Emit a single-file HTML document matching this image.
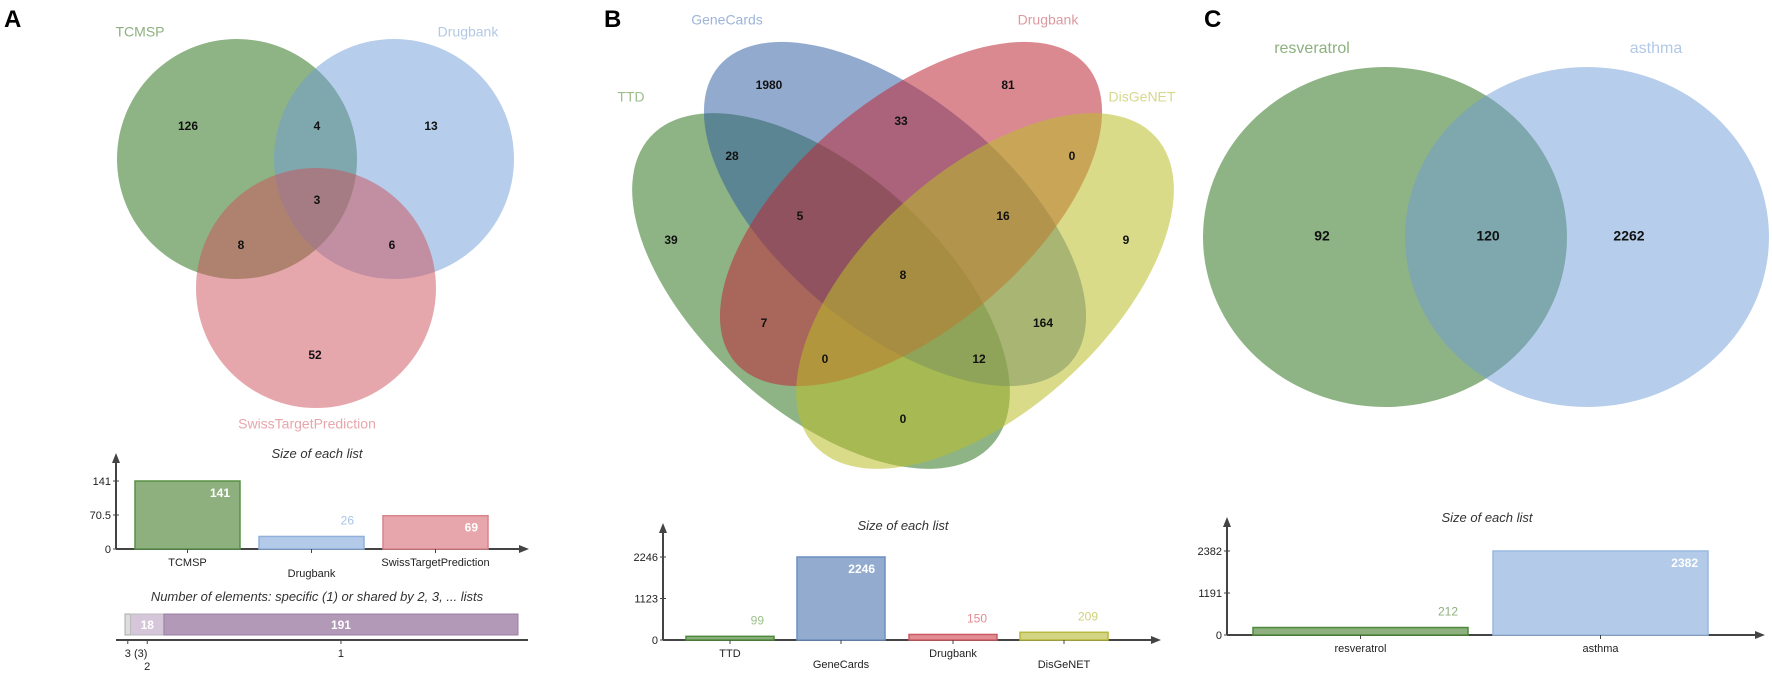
<!DOCTYPE html>
<html><head><meta charset="utf-8">
<style>
html,body{margin:0;padding:0;background:#fff;}
svg{display:block;font-family:"Liberation Sans",Arial,sans-serif;}
.num{font-size:12px;font-weight:bold;fill:#111;text-anchor:middle;dominant-baseline:middle;}
.lab{font-size:14px;text-anchor:middle;dominant-baseline:middle;}
.panel{font-size:24px;font-weight:bold;fill:#000;}
.tick{font-size:11px;fill:#222;}
.ttl{font-size:13px;font-style:italic;fill:#333;text-anchor:middle;}
</style></head>
<body>
<svg id="fig" width="1772" height="674" viewBox="0 0 1772 674">
<defs>
<marker id="arr" markerWidth="10" markerHeight="10" refX="5" refY="5" orient="auto" markerUnits="userSpaceOnUse">
<path d="M0,1 L10,5 L0,9 Z" fill="#444"/></marker>
</defs>

<!-- Panel A -->
<text class="panel" x="4" y="27">A</text>
<g>
<circle cx="237" cy="159" r="120" fill="rgb(60,125,45)" fill-opacity="0.58"/>
<circle cx="394" cy="159" r="120" fill="rgb(110,155,215)" fill-opacity="0.5"/>
<circle cx="316" cy="288" r="120" fill="rgb(205,80,90)" fill-opacity="0.5"/>
<text class="lab" x="140" y="33" fill="#8db07e">TCMSP</text>
<text class="lab" x="468" y="33" fill="#b3c8e6">Drugbank</text>
<text class="lab" x="307" y="425" fill="#e8a6ab">SwissTargetPrediction</text>
<text class="num" x="188" y="127">126</text>
<text class="num" x="317" y="127">4</text>
<text class="num" x="431" y="127">13</text>
<text class="num" x="317" y="201">3</text>
<text class="num" x="241" y="246">8</text>
<text class="num" x="392" y="246">6</text>
<text class="num" x="315" y="356">52</text>
</g>
<g id="barA"></g>
<g id="stackA"></g>

<!-- Panel B -->
<text class="panel" x="604" y="27">B</text>
<g>
<ellipse cx="821" cy="291" rx="230" ry="120" transform="rotate(42 821 291)" fill="rgb(60,125,45)" fill-opacity="0.58"/>
<ellipse cx="895" cy="214" rx="230" ry="115" transform="rotate(40 895 214)" fill="rgb(40,85,160)" fill-opacity="0.5"/>
<ellipse cx="911" cy="214" rx="230" ry="115" transform="rotate(-40 911 214)" fill="rgb(190,40,55)" fill-opacity="0.55"/>
<ellipse cx="985" cy="291" rx="230" ry="120" transform="rotate(-42 985 291)" fill="rgb(185,190,40)" fill-opacity="0.55"/>
<text class="lab" x="727" y="21" fill="#9db5d8">GeneCards</text>
<text class="lab" x="1048" y="21" fill="#dc9aa0">Drugbank</text>
<text class="lab" x="631" y="98" fill="#9dbc8c">TTD</text>
<text class="lab" x="1142" y="98" fill="#d6d88c">DisGeNET</text>
<text class="num" x="769" y="86">1980</text>
<text class="num" x="1008" y="86">81</text>
<text class="num" x="901" y="122">33</text>
<text class="num" x="732" y="157">28</text>
<text class="num" x="1072" y="157">0</text>
<text class="num" x="800" y="217">5</text>
<text class="num" x="1003" y="217">16</text>
<text class="num" x="671" y="241">39</text>
<text class="num" x="1126" y="241">9</text>
<text class="num" x="903" y="276">8</text>
<text class="num" x="764" y="324">7</text>
<text class="num" x="1043" y="324">164</text>
<text class="num" x="825" y="360">0</text>
<text class="num" x="979" y="360">12</text>
<text class="num" x="903" y="420">0</text>
</g>
<g id="barB"></g>

<!-- Panel C -->
<text class="panel" x="1204" y="27">C</text>
<g>
<ellipse cx="1385" cy="237" rx="182" ry="170" fill="rgb(60,125,45)" fill-opacity="0.58"/>
<ellipse cx="1587" cy="237" rx="182" ry="170" fill="rgb(110,155,215)" fill-opacity="0.5"/>
<text class="lab" x="1312" y="49" fill="#8db07e" style="font-size:16px">resveratrol</text>
<text class="lab" x="1656" y="49" fill="#b3c8e6" style="font-size:16px">asthma</text>
<text class="num" x="1322" y="237" style="font-size:14px">92</text>
<text class="num" x="1488" y="237" style="font-size:14px">120</text>
<text class="num" x="1629" y="237" style="font-size:14px">2262</text>
</g>
<g id="barC"></g>
</svg>

<script>
// Panel A bar data
const catsA = ["TCMSP","Drugbank","SwissTargetPrediction"];
const valsA = [141,26,69];
const ticksA = [0,70.5,141];
// Panel B bar data
const catsB = ["TTD","GeneCards","Drugbank","DisGeNET"];
const valsB = [99,2246,150,209];
const ticksB = [0,1123,2246];
// Panel C bar data
const catsC = ["resveratrol","asthma"];
const valsC = [212,2382];
const ticksC = [0,1191,2382];
// Shared-elements stacked bar data
const stackLabels = ["3","2","1"];
const stackVals = [3,18,191];

const NS = "http://www.w3.org/2000/svg";
function mk(parent, tag, attrs, text){
  const e = document.createElementNS(NS, tag);
  for (const k in attrs) e.setAttribute(k, attrs[k]);
  if (text !== undefined) e.textContent = text;
  parent.appendChild(e);
  return e;
}

function barChart(g, cfg){
  const {cats, vals, ticks, ax, y0, yTop, axTop, axRight, x0s, bw, fills, strokes, labColors, inside, title, titleX, titleY, stagger, key} = cfg;
  const maxV = ticks[ticks.length-1];
  const ys = v => y0 - (v/maxV)*(y0-yTop);
  const t = mk(g,"text",{class:"ttl",x:titleX,y:titleY});
  t.textContent = title;
  
  
  const ya = mk(g,"line",{x1:ax,y1:y0,x2:ax,y2:axTop,stroke:"#444","stroke-width":2,"marker-end":"url(#arr)"});
  
  
  const xa = mk(g,"line",{x1:ax,y1:y0,x2:axRight,y2:y0,stroke:"#444","stroke-width":2,"marker-end":"url(#arr)"});
  
  
  ticks.forEach((tv)=>{
    const y = ys(tv);
    mk(g,"line",{x1:ax-3,y1:y,x2:ax+3,y2:y,stroke:"#444","stroke-width":1});
    const tl = mk(g,"text",{class:"tick",x:ax-5,y:y+4,"text-anchor":"end"}, String(tv));
    
    
  });
  cats.forEach((c,i)=>{
    const x = x0s[i], v = vals[i], yy = ys(v);
    const r = mk(g,"rect",{x:x,y:yy,width:bw,height:y0-yy,fill:fills[i],stroke:strokes[i],"stroke-width":1.5});
    
    
    const cx = x+bw/2;
    mk(g,"line",{x1:cx,y1:y0,x2:cx,y2:y0+4,stroke:"#444","stroke-width":1});
    const ly = y0 + 17 + ((stagger && i%2===1)?11:0);
    const cl = mk(g,"text",{class:"tick",x:cx,y:ly,"text-anchor":"middle"}, c);
    
    
    const isIn = (yy < inside);
    const vl = mk(g,"text",{x:x+bw-10,y:isIn?yy+16:yy-12,"text-anchor":"end",style:"font-size:12px;fill:"+(isIn?"#fff":labColors[i])+";font-weight:"+(isIn?"bold":"normal")}, String(v));
    
    
  });
}

barChart(document.getElementById("barA"),{
  key:"bar-a", cats:catsA, vals:valsA, ticks:ticksA, ax:116, y0:549, yTop:481, axTop:458, axRight:524,
  x0s:[135,259,383], bw:105,
  fills:["#8db07e","#b3cbe8","#e6a6ab"], strokes:["#5a8f47","#90b0dc","#d9848b"], labColors:["#8db07e","#a9c3e6","#e6a6ab"],
  inside:535, title:"Size of each list", titleX:317, titleY:458, stagger:true
});
barChart(document.getElementById("barB"),{
  key:"bar-b", cats:catsB, vals:valsB, ticks:ticksB, ax:663, y0:640, yTop:557, axTop:528, axRight:1156,
  x0s:[686,797,909,1020], bw:88,
  fills:["#8db07e","#93abcf","#e08e94","#d3d585"], strokes:["#4e8a3c","#6d8fc0","#cf5a63","#b8b93c"], labColors:["#9dc28a","#8ea8cf","#e38a91","#cfd17a"],
  inside:600, title:"Size of each list", titleX:903, titleY:530, stagger:true
});
barChart(document.getElementById("barC"),{
  key:"bar-c", cats:catsC, vals:valsC, ticks:ticksC, ax:1227, y0:635, yTop:551, axTop:522, axRight:1760,
  x0s:[1253,1493], bw:215,
  fills:["#8db07e","#b3cbe8"], strokes:["#4e8a3c","#9ab9e0"], labColors:["#8db07e","#a9c3e6"],
  inside:600, title:"Size of each list", titleX:1487, titleY:522, stagger:false
});

// stacked shared-elements bar
(function(){
  const g = document.getElementById("stackA");
  const total = stackVals.reduce((a,b)=>a+b,0);
  const x0 = 125, x1 = 518, y = 614, h = 21;
  const sx = v => (v/total)*(x1-x0);
  const t = mk(g,"text",{class:"ttl",x:317,y:601});
  t.textContent = "Number of elements: specific (1) or shared by 2, 3, ... lists";
  
  
  const fills = ["#ddd","#d6c6da","#b199b7"];
  const strokes = ["#aaa","#bbb","#9a7fa2"];
  let x = x0;
  stackVals.forEach((v,i)=>{
    const w = sx(v);
    const r = mk(g,"rect",{x:x,y:y,width:w,height:h,fill:fills[i],stroke:strokes[i],"stroke-width":1});
    
    
    if (w > 20){
      const tl = mk(g,"text",{x:x+w/2,y:y+15,"text-anchor":"middle",style:"fill:#fff;font-size:12px;font-weight:bold"}, String(v));
      
      
    }
    const cx = x + w/2;
    mk(g,"line",{x1:cx,y1:640,x2:cx,y2:644,stroke:"#444","stroke-width":1});
    const txt = stackLabels[i] + (i===0 ? " (3)" : "");
    const lx = i===0 ? cx-3 : cx;
    const ly = i===1 ? 670 : 657;
    const tk = mk(g,"text",{class:"tick",x:lx,y:ly,"text-anchor":i===0?"start":"middle"}, txt);
    
    
    x += w;
  });
  const ax = mk(g,"line",{x1:116,y1:640,x2:528,y2:640,stroke:"#444","stroke-width":2});
  
  
})();
</script>
</body></html>
